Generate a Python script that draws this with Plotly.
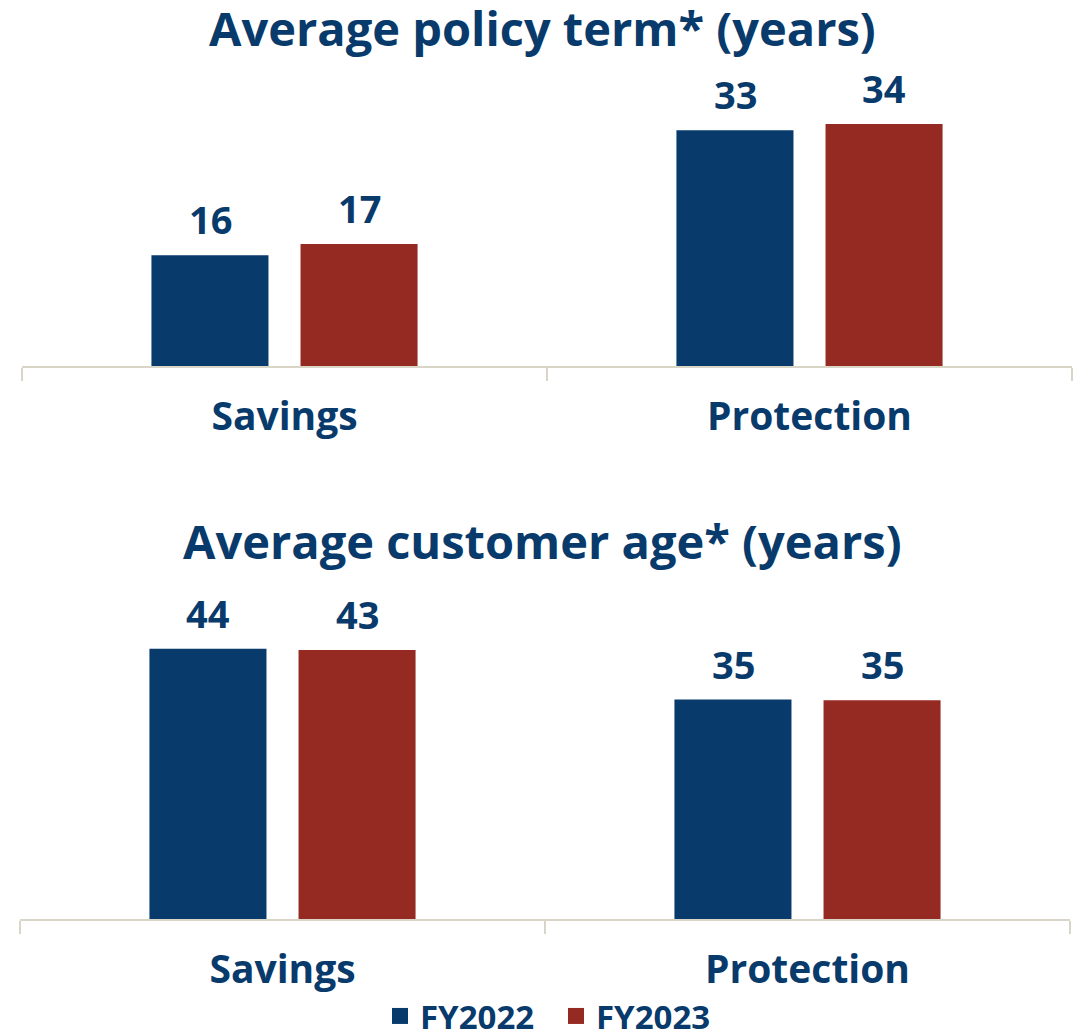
import plotly.graph_objects as go
from plotly.subplots import make_subplots

# data
categories = ["Savings", "Protection"]
series_names = ["FY2022", "FY2023"]

policy_term_fy2022 = [15.6, 33.2]
policy_term_fy2023 = [17.2, 34.1]

customer_age_fy2022 = [43.6, 35.4]
customer_age_fy2023 = [43.4, 35.3]

titles = ["Average policy term* (years)", "Average customer age* (years)"]

NAVY = "#083A6B"
RED = "#952A22"
AXIS = "#D9D5C7"
FONT = "Open Sans"

colors = [NAVY, RED]
panels = [
    [policy_term_fy2022, policy_term_fy2023],
    [customer_age_fy2022, customer_age_fy2023],
]

# the page body adds an 8px margin, so figure pixels = screen pixels - 8
W, H = 1068, 1025
top_area = (72, 358)
bottom_area = (592, 911)
BAR_SLOT = 149  # px between the centres of the two bars of a group

fig = make_subplots(rows=2, cols=1)

annotations = []
for row, panel in enumerate(panels, start=1):
    for k, (name, values, color) in enumerate(zip(series_names, panel, colors)):
        fig.add_trace(
            go.Bar(
                x=categories,
                y=values,
                name=name,
                marker=dict(color=color, line=dict(width=0)),
                showlegend=False,
            ),
            row=row,
            col=1,
        )
        # value labels above each bar
        for cat, v in zip(categories, values):
            annotations.append(
                dict(
                    text=f"{v:.0f}",
                    x=cat,
                    y=v,
                    xref="x" if row == 1 else "x2",
                    yref="y" if row == 1 else "y2",
                    xshift=(k - 0.5) * BAR_SLOT,
                    yshift=8,
                    yanchor="bottom",
                    showarrow=False,
                    font=dict(family=FONT, size=38, color=NAVY, weight="bold"),
                )
            )

# legend entries with square swatches
for name, color in zip(series_names, colors):
    fig.add_trace(
        go.Scatter(
            x=[None],
            y=[None],
            mode="markers",
            name=name,
            marker=dict(symbol="square", size=20, color=color),
            showlegend=True,
        ),
        row=2,
        col=1,
    )


def ydomain(area):
    return [1 - area[1] / H, 1 - area[0] / H]


xaxis_style = dict(
    showline=True,
    linecolor=AXIS,
    linewidth=2,
    ticks="outside",
    tickson="boundaries",
    ticklen=13,
    tickwidth=2,
    tickcolor=AXIS,
    tickfont=dict(family=FONT, size=39, color=NAVY, weight="bold"),
    ticklabelstandoff=15,
    showgrid=False,
)
yaxis_style = dict(visible=False, showgrid=False, zeroline=False)

fig.update_xaxes(**xaxis_style)
fig.update_xaxes(domain=[14 / W, 1064 / W], row=1, col=1)
fig.update_xaxes(domain=[12 / W, 1062 / W], row=2, col=1)
fig.update_yaxes(**yaxis_style)
fig.update_yaxes(range=[0, (top_area[1] - top_area[0]) / 7.1], domain=ydomain(top_area), row=1, col=1)
fig.update_yaxes(range=[0, (bottom_area[1] - bottom_area[0]) / 6.2], domain=ydomain(bottom_area), row=2, col=1)

for title, y in zip(titles, [20, 533]):
    annotations.append(
        dict(
            text=title,
            xref="paper",
            yref="paper",
            x=0.5,
            y=1 - y / H,
            xanchor="center",
            yanchor="middle",
            showarrow=False,
            font=dict(family=FONT, size=47, color=NAVY, weight="bold"),
        )
    )

fig.update_layout(
    width=W,
    height=H,
    margin=dict(l=0, r=0, t=0, b=0, autoexpand=False),
    paper_bgcolor="white",
    plot_bgcolor="white",
    barmode="group",
    bargap=0.432,
    bargroupgap=0.215,
    annotations=annotations,
    legend=dict(
        orientation="h",
        x=372 / W,
        xanchor="left",
        y=1 - 1008 / H,
        yanchor="middle",
        font=dict(family=FONT, size=33, color=NAVY, weight="bold"),
        itemwidth=30,
        entrywidth=131,
        tracegroupgap=0,
    ),
)

fig.write_html("out.html")
